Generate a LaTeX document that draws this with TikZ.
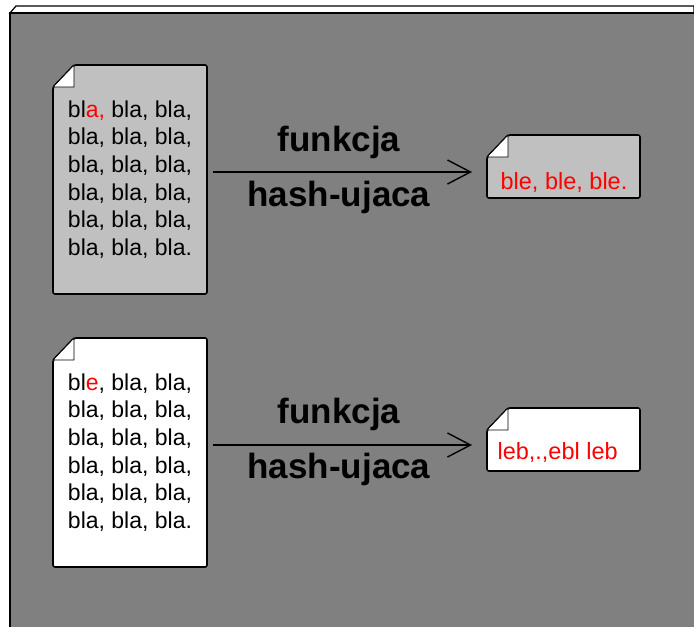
\documentclass[tikz,border=0pt]{standalone}
\usepackage{fontspec}
\setmainfont{Liberation Sans}
\usetikzlibrary{arrows.meta,backgrounds}
\definecolor{panelgray}{RGB}{128,128,128}
\definecolor{pagegray}{RGB}{192,192,192}
\definecolor{hashred}{RGB}{255,0,0}
\newcommand{\dogear}[2]{%
  \begin{scope}[on background layer]
    \draw[pageline, fill=#2] ([yshift=-22pt]#1.north west) -- ([xshift=21pt]#1.north west)
      -- (#1.north east) -- (#1.south east) -- (#1.south west) -- cycle;
    \draw[foldline, fill=white] ([yshift=-22pt]#1.north west) -- ([xshift=21pt]#1.north west)
      -- ([xshift=21pt,yshift=-22pt]#1.north west) -- cycle;
  \end{scope}}
\begin{document}
\begin{tikzpicture}[x=1pt, y=-1pt]

      \tikzset{page/.style={inner sep=0pt, outer sep=0pt, minimum width=154pt, minimum height=229pt,
                 align=left, font=\fontsize{23}{27.6}\selectfont},
               hashpage/.style={inner sep=0pt, outer sep=0pt, minimum width=153pt, minimum height=63pt},
               hashtext/.style={text=hashred, font=\fontsize{23.5}{26}\selectfont},
               pageline/.style={line width=1.6pt, rounded corners=2pt},
               foldline/.style={line width=0.8pt},
               hasharrow/.style={line width=1.4pt, -{Straight Barb[length=23pt, width=24pt, line width=1.4pt]},
                 shorten <=6pt, shorten >=15pt},
               label/.style={font=\fontsize{35}{38}\bfseries\selectfont, xshift=-8pt}}
%% Frame
      \useasboundingbox (0,0) rectangle (694,627);
      \begin{scope}[on background layer]
        \fill[white] (0,0) rectangle (694,627);
        \fill[panelgray] (10,13) rectangle (694,627);
        \draw[line width=1.2pt, fill=white] (10,13) -- (16,6) -- (694,6) -- (694,13) -- cycle;
        \draw[line width=1.6pt] (10,627) -- (10,13) -- (694,13);
      \end{scope}
%% Pages
      \node[page] (doc1) at (130,179.5) {bl\textcolor{hashred}{a,} bla, bla,\\ bla, bla, bla,\\ bla, bla, bla,\\
                                         bla, bla, bla,\\ bla, bla, bla,\\ bla, bla, bla.};
      \node[page] (doc2) at (130,452.5) {bl\textcolor{hashred}{e}, bla, bla,\\ bla, bla, bla,\\ bla, bla, bla,\\
                                         bla, bla, bla,\\ bla, bla, bla,\\ bla, bla, bla.};
      \node[hashpage] (out1) at (563.5,166.5) {};
      \node[hashpage] (out2) at (563.5,439.5) {};
      \node[hashtext] (out1txt) at (564,182) {ble, ble, ble.};
      \node[hashtext, anchor=west] (out2txt) at (494,452) {leb,.,ebl leb};
      \dogear{doc1}{pagegray}
      \dogear{doc2}{white}
      \dogear{out1}{pagegray}
      \dogear{out2}{white}
%Arrows
      \coordinate (mid1) at (342,172);
      \coordinate (mid2) at (342,445);
      \draw[hasharrow] (doc1.east |- mid1) -- (out1.west |- mid1)
            node[label, midway, yshift=30pt] {funkcja}
            node[label, midway, yshift=-25pt] {hash-ujaca};
      \draw[hasharrow] (doc2.east |- mid2) -- (out2.west |- mid2)
            node[label, midway, yshift=31pt] {funkcja}
            node[label, midway, yshift=-24pt] {hash-ujaca};

\end{tikzpicture}
\end{document}
